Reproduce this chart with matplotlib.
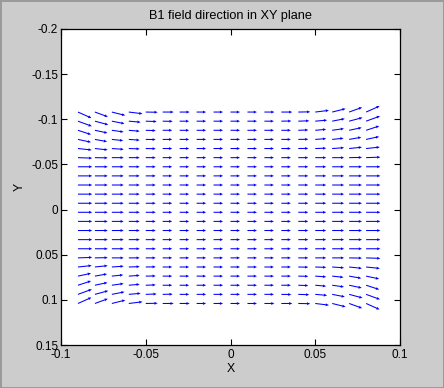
import numpy as np
import matplotlib
matplotlib.use('Agg')
import matplotlib.pyplot as plt

plt.rcParams['font.family'] = ['Liberation Sans', 'DejaVu Sans']

# grid of field sample points (metres)
x_pts = [-0.09, -0.08, -0.07, -0.06, -0.05, -0.04, -0.03, -0.02, -0.01,
         0.0, 0.01, 0.02, 0.03, 0.04, 0.05, 0.06, 0.07, 0.08]
y_pts = list(np.round(np.linspace(-0.108, 0.104, 22), 4))

# field direction for the upper-left quarter
# (degrees below horizontal, 11 rows from top x 9 columns from left)
quad_angle = [
    [24, 20, 14, 7, 1, 0, 0, 0, 0],
    [20, 15, 11, 5, 2, 1, 0, 0, 0],
    [18, 12, 8, 5, 2, 0, 0, 0, 0],
    [12, 10, 6, 4, 1, 0, 0, 0, 0],
    [6, 6, 4, 2, 1, 0, 0, 0, 0],
    [2, 1, 0, 0, 0, 0, 0, 0, 0],
    [0, 0, 0, 0, 0, 0, 0, 0, 0],
    [0, 0, 0, 0, 0, 0, 0, 0, 0],
    [0, 0, 0, 0, 0, 0, 0, 0, 0],
    [0, 0, 0, 0, 0, 0, 0, 0, 0],
    [0, 0, 0, 0, 0, 0, 0, 0, 0],
]
# relative field strength, same quarter
quad_mag = [
    [1.55, 1.45, 1.45, 1.45, 1.25, 1.15, 1.05, 1.0, 1.0],
    [1.55, 1.45, 1.35, 1.25, 1.15, 1.05, 1.0, 1.0, 1.0],
    [1.45, 1.35, 1.25, 1.15, 1.05, 1.0, 1.0, 1.0, 1.0],
    [1.4, 1.3, 1.2, 1.15, 1.05, 1.0, 1.0, 1.0, 1.0],
    [1.45, 1.35, 1.25, 1.15, 1.05, 1.0, 1.0, 1.0, 1.0],
    [1.5, 1.35, 1.25, 1.15, 1.05, 1.0, 1.0, 1.0, 1.0],
    [1.5, 1.35, 1.25, 1.15, 1.05, 1.0, 1.0, 1.0, 1.0],
    [1.5, 1.35, 1.25, 1.15, 1.05, 1.0, 1.0, 1.0, 1.0],
    [1.5, 1.35, 1.25, 1.15, 1.05, 1.0, 1.0, 1.0, 1.0],
    [1.5, 1.35, 1.25, 1.15, 1.05, 1.0, 1.0, 1.0, 1.0],
    [1.5, 1.35, 1.25, 1.15, 1.05, 1.0, 1.0, 1.0, 1.0],
]

x_ticks = [-0.1, -0.05, 0, 0.05, 0.1]
x_ticklabels = ['-0.1', '-0.05', '0', '0.05', '0.1']
y_ticks = [-0.2, -0.15, -0.1, -0.05, 0, 0.05, 0.1, 0.15]
y_ticklabels = ['-0.2', '-0.15', '-0.1', '-0.05', '0', '0.05', '0.1', '0.15']

# field is mirror symmetric: flip the quarter out to the full grid
qa = np.array(quad_angle, dtype=float)
qm = np.array(quad_mag, dtype=float)
down = np.block([[qa, -qa[:, ::-1]], [-qa[::-1, :], qa[::-1, ::-1]]])
mag = np.block([[qm, qm[:, ::-1]], [qm[::-1, :], qm[::-1, ::-1]]])

X, Y = np.meshgrid(x_pts, y_pts)

fig = plt.figure(figsize=(4.44, 3.88), dpi=100)
fig.patch.set_facecolor('#cccccc')
fig.patch.set_edgecolor('#9a9a9a')
fig.patch.set_linewidth(2)
ax = fig.add_axes([0.1374, 0.1108, 0.7635, 0.8145])

ax.quiver(X, Y, mag, np.zeros_like(mag), angles=-down, scale_units='x',
          scale=178, color='blue', width=0.0031, headwidth=2.8,
          headlength=3.2, headaxislength=2.9, pivot='tail')

ax.set_xlim(-0.1, 0.1)
ax.set_ylim(0.15, -0.2)
ax.set_xticks(x_ticks)
ax.set_xticklabels(x_ticklabels)
ax.set_yticks(y_ticks)
ax.set_yticklabels(y_ticklabels)
ax.tick_params(direction='in', top=True, right=True, length=4, width=0.8,
               labelsize=8.5, pad=2)
ax.tick_params(axis='x', pad=3)
for s in ax.spines.values():
    s.set_linewidth(0.9)

ax.set_title('B1 field direction in XY plane', fontsize=9.2, pad=7)
ax.set_xlabel('X', fontsize=8.8, labelpad=1)
ax.set_ylabel('Y', fontsize=8.8, labelpad=4)

fig.savefig('out.png', dpi=100, facecolor=fig.get_facecolor(),
            edgecolor=fig.get_edgecolor())
